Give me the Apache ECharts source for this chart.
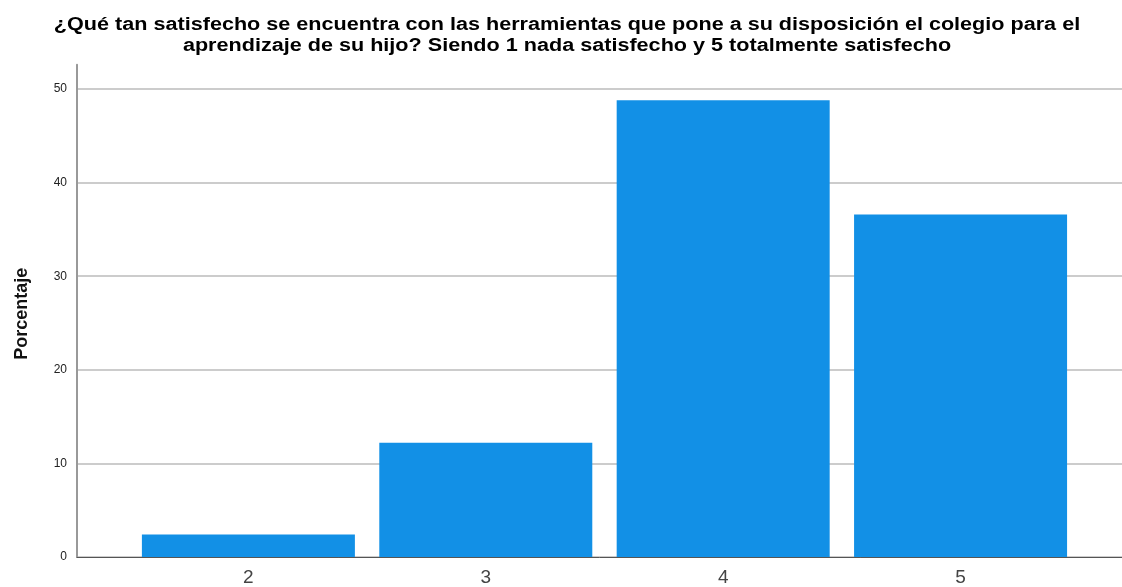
<!DOCTYPE html>
<html><head><meta charset="utf-8">
<script src="https://cdn.jsdelivr.net/npm/echarts@6/dist/echarts.min.js"></script>
<style>html,body{margin:0;padding:0;background:#fff}#c{width:1122px;height:587px}</style>
</head><body><div id="c"></div>
<script>
const categories = [2, 3, 4, 5];
const values = [2.4, 12.2, 48.8, 36.6];
const yTicks = [0, 10, 20, 30, 40, 50];
const titleText = '¿Qué tan satisfecho se encuentra con las herramientas que pone a su disposición el colegio para el\naprendizaje de su hijo? Siendo 1 nada satisfecho y 5 totalmente satisfecho';
const yName = 'Porcentaje';

const chart = echarts.init(document.getElementById('c'), null, {renderer: 'canvas'});
chart.setOption({
  animation: false,
  graphic: [{
    type: 'text', x: 567, y: 15, scaleX: 1.2, scaleY: 1,
    style: {
      text: titleText, fill: '#000', align: 'center', verticalAlign: 'top',
      font: 'bold 18px "Liberation Sans", Arial, sans-serif', lineHeight: 21
    }
  }],
  grid: {left: 77, right: 0, top: 64.7, bottom: 29.7, containLabel: false},
  xAxis: {
    type: 'value', min: 1.278, max: 5.68,
    splitLine: {show: false},
    axisTick: {show: false},
    axisLine: {show: true, lineStyle: {color: '#555', width: 1}},
    axisLabel: {customValues: categories, fontFamily: 'Liberation Sans, Arial, sans-serif', fontSize: 19, color: '#444', margin: 11}
  },
  yAxis: {
    type: 'value', min: 0, max: 52.6, interval: 10,
    name: yName, nameLocation: 'middle', nameGap: 46, nameRotate: 90,
    nameTextStyle: {fontFamily: 'Liberation Sans, Arial, sans-serif', fontSize: 18, fontWeight: 'bold', color: '#111', padding: [0, 6, 0, 0]},
    axisLine: {show: true, lineStyle: {color: '#999', width: 2}},
    axisTick: {show: false},
    axisLabel: {customValues: yTicks, fontFamily: 'Liberation Sans, Arial, sans-serif', fontSize: 12, color: '#222', margin: 10},
    splitLine: {show: true, showMaxLine: false, lineStyle: {color: '#ccc', width: 2}}
  },
  series: [{
    type: 'bar',
    data: categories.map((c, i) => [c, values[i]]),
    barWidth: 213,
    itemStyle: {color: '#1290e6'}
  }]
});
</script></body></html>
